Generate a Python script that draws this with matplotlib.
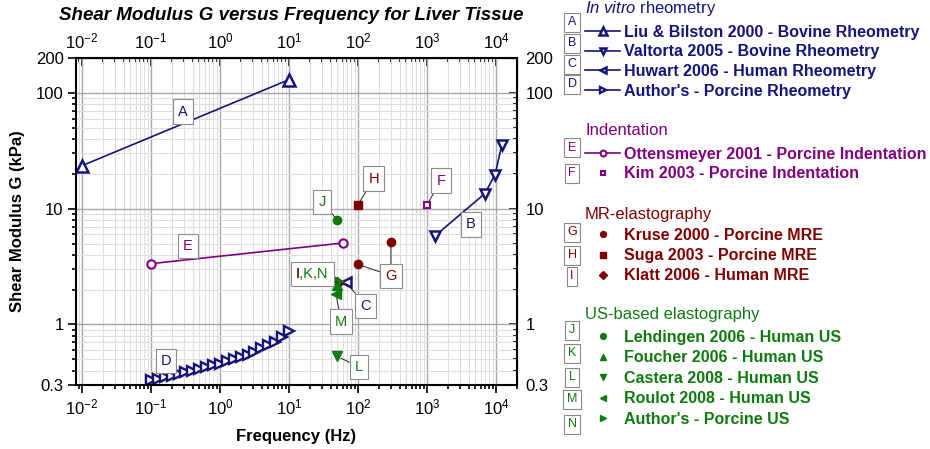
import numpy as np
import matplotlib.pyplot as plt
from matplotlib.ticker import FixedLocator, LogLocator, NullFormatter, FuncFormatter

plt.rcParams['font.family'] = ['Liberation Sans', 'DejaVu Sans']
plt.rcParams['mathtext.fontset'] = 'custom'
plt.rcParams['mathtext.rm'] = 'Liberation Sans'
plt.rcParams['mathtext.it'] = 'Liberation Sans:italic'
plt.rcParams['mathtext.bf'] = 'Liberation Sans:bold'

# ---- data (frequency Hz, shear modulus kPa) ----
liu_f = [0.01, 10]
liu_g = [23.5, 130]
valtorta_f = [1300, 6900, 9700, 12200]
valtorta_g = [5.8, 13.5, 19.7, 35.7]
huwart_f = [66]
huwart_g = [2.33]
author_f = [0.1, 0.126, 0.158, 0.2, 0.251, 0.316, 0.398, 0.501, 0.631, 0.794, 1.0,
            1.26, 1.58, 2.0, 2.51, 3.16, 3.98, 5.01, 6.31, 7.94, 10.0]
author_g = [0.33, 0.34, 0.35, 0.36, 0.37, 0.385, 0.40, 0.415, 0.43, 0.445, 0.46,
            0.48, 0.50, 0.52, 0.55, 0.58, 0.62, 0.66, 0.71, 0.78, 0.88]
otten_f = [0.1, 60]
otten_g = [3.35, 5.05]
kim_f = [1000]
kim_g = [10.8]
kruse_f = [100, 300]
kruse_g = [3.3, 5.2]
suga_f = [100]
suga_g = [10.8]
klatt_f = [50]
klatt_g = [2.3]
lehd_f = [50]
lehd_g = [8.0]
foucher_f = [50]
foucher_g = [2.2]
castera_f = [50]
castera_g = [0.53]
roulot_f = [48]
roulot_g = [1.84]
authus_f = [52]
authus_g = [2.35]

BLUE = '#14147a'
PURPLE = '#800080'
RED = '#800000'
GREEN = '#0f7a0f'

fig = plt.figure(figsize=(9.3, 4.49), dpi=100)
ax = fig.add_axes([76/930, 64/449, 441/930, 327/449])
ax.set_xscale('log')
ax.set_yscale('log')

hA, = ax.plot(liu_f, liu_g, '-^', color=BLUE, mfc='white', ms=8, mew=1.8, lw=1.2,
              label='Liu & Bilston 2000 - Bovine Rheometry')
hB, = ax.plot(valtorta_f, valtorta_g, '-v', color=BLUE, mfc='white', ms=7, mew=1.8, lw=1.2,
              label='Valtorta 2005 - Bovine Rheometry')
hC, = ax.plot(huwart_f, huwart_g, '-<', color=BLUE, mfc='white', ms=7, mew=1.8, lw=1.2,
              label='Huwart 2006 - Human Rheometry')
hD, = ax.plot(author_f, author_g, '->', color=BLUE, mfc='white', ms=7, mew=1.7, lw=1.2,
              label="Author's - Porcine Rheometry")
hE, = ax.plot(otten_f, otten_g, '-o', color=PURPLE, mfc='white', ms=6, mew=1.5, lw=1.2,
              label='Ottensmeyer 2001 - Porcine Indentation')
hF, = ax.plot(kim_f, kim_g, 's', color=PURPLE, mfc='white', ms=5, mew=1.5, ls='none',
              label='Kim 2003 - Porcine Indentation')
hG, = ax.plot(kruse_f, kruse_g, 'o', color=RED, ms=6, ls='none', label='Kruse 2000 - Porcine MRE')
hH, = ax.plot(suga_f, suga_g, 's', color=RED, ms=6, ls='none', label='Suga 2003 - Porcine MRE')
hI, = ax.plot(klatt_f, klatt_g, 'D', color=RED, ms=6, ls='none', label='Klatt 2006 - Human MRE')
hJ, = ax.plot(lehd_f, lehd_g, 'o', color=GREEN, ms=6, ls='none', label='Lehdingen 2006 - Human US')
hK, = ax.plot(foucher_f, foucher_g, '^', color=GREEN, ms=7, ls='none', label='Foucher 2006 - Human US')
hL, = ax.plot(castera_f, castera_g, 'v', color=GREEN, ms=7, ls='none', label='Castera 2008 - Human US')
hM, = ax.plot(roulot_f, roulot_g, '<', color=GREEN, ms=7, ls='none', label='Roulot 2008 - Human US')
hN, = ax.plot(authus_f, authus_g, '>', color=GREEN, ms=7, ls='none', label="Author's - Porcine US")

ax.set_xlim(10**-2.087, 10**4.305)
ax.set_ylim(0.3, 200)

# ticks and grid
def decade(v, p):
    return r'$\mathregular{10^{%d}}$' % round(np.log10(v))

ax.xaxis.set_major_locator(LogLocator(base=10, numticks=20))
ax.xaxis.set_minor_locator(LogLocator(base=10, subs=np.arange(2, 10), numticks=20))
ax.xaxis.set_minor_formatter(NullFormatter())
ax.xaxis.set_major_formatter(FuncFormatter(decade))
ax.yaxis.set_major_locator(FixedLocator([0.3, 1, 10, 100, 200]))
ax.yaxis.set_minor_locator(LogLocator(base=10, subs=np.arange(2, 10), numticks=20))
ax.yaxis.set_minor_formatter(NullFormatter())
ax.yaxis.set_major_formatter(FuncFormatter(lambda v, p: '%g' % v))
ax.grid(True, which='major', color='#a8a8a8', lw=1.0)
ax.grid(True, which='minor', color='#dedede', lw=0.8)
ax.set_axisbelow(True)
ax.tick_params(which='both', direction='out', labelsize=12, width=1.2)
ax.tick_params(which='major', length=6, pad=3)
ax.tick_params(which='minor', length=3)
for s in ax.spines.values():
    s.set_linewidth(1.5)

secx = ax.secondary_xaxis('top')
secx.xaxis.set_major_locator(LogLocator(base=10, numticks=20))
secx.xaxis.set_minor_locator(LogLocator(base=10, subs=np.arange(2, 10), numticks=20))
secx.xaxis.set_minor_formatter(NullFormatter())
secx.xaxis.set_major_formatter(FuncFormatter(decade))
secx.tick_params(which='both', direction='in', labelsize=12, width=1.2)
secx.tick_params(which='major', length=6, pad=5)
secx.tick_params(which='minor', length=3)
secy = ax.secondary_yaxis('right')
secy.yaxis.set_major_locator(FixedLocator([0.3, 1, 10, 100, 200]))
secy.yaxis.set_minor_locator(LogLocator(base=10, subs=np.arange(2, 10), numticks=20))
secy.yaxis.set_minor_formatter(NullFormatter())
secy.yaxis.set_major_formatter(FuncFormatter(lambda v, p: '%g' % v))
secy.tick_params(which='both', direction='in', labelsize=12, width=1.2)
secy.tick_params(which='major', length=6, pad=6)
secy.tick_params(which='minor', length=3)

ax.set_xlabel('Frequency (Hz)', fontsize=12, fontweight='bold', labelpad=8)
ax.set_ylabel('Shear Modulus G (kPa)', fontsize=12, fontweight='bold', labelpad=8)
fig.text(291/930, 1 - 15/449, 'Shear Modulus G versus Frequency for Liver Tissue',
         ha='center', va='center', fontsize=13.5, fontweight='bold', style='italic')

# ---- letter labels on the plot ----
box = dict(boxstyle='square,pad=0.35', fc='white', ec='#8c8c8c', lw=0.8)
conn = dict(arrowstyle='-', color='#222222', lw=0.7, shrinkA=0, shrinkB=3)
plain_labels = [('A', 0.29, 68.9, BLUE), ('B', 4340, 7.3, BLUE), ('D', 0.165, 0.486, BLUE),
                ('E', 0.34, 4.79, PURPLE)]
for t, x, y, c in plain_labels:
    ax.text(x, y, t, color=c, fontsize=10.5, ha='center', va='center', bbox=box, zorder=5)

linked_labels = [('C', (huwart_f[0], huwart_g[0]), (130, 1.45), BLUE),
                 ('F', (kim_f[0], kim_g[0]), (1600, 17.5), PURPLE),
                 ('H', (suga_f[0], suga_g[0]), (170, 18.2), RED),
                 ('J', (lehd_f[0], lehd_g[0]), (30, 11.5), GREEN),
                 ('L', (castera_f[0], castera_g[0]), (103, 0.43), GREEN),
                 ('M', (roulot_f[0], roulot_g[0]), (57, 1.06), GREEN)]
for t, xy, xyt, c in linked_labels:
    ax.annotate(t, xy=xy, xytext=xyt, color=c, fontsize=10.5, ha='center', va='center',
                bbox=box, arrowprops=conn, zorder=5)

# G label points at both Kruse values
ax.annotate('', xy=(kruse_f[1], kruse_g[1]), xytext=(300, 2.64), arrowprops=conn, zorder=4)
ax.annotate('G', xy=(kruse_f[0], kruse_g[0]), xytext=(300, 2.64), color=RED, fontsize=10.5,
            ha='center', va='center', bbox=box, arrowprops=conn, zorder=6)
ax.annotate('I,K,N', xy=(klatt_f[0], klatt_g[0]), xytext=(12.6, 2.74), color=GREEN, fontsize=10.5,
            ha='left', va='center', bbox=box, arrowprops=conn, zorder=6)
ax.text(12.6, 2.74, 'I', color=RED, fontsize=10.5, ha='left', va='center', zorder=7)

# ---- legend on the right ----
def px(x, y):
    return (x / 930, 1 - y / 449)

groups = [
    (r'$\mathit{In\ vitro}$ rheometry', BLUE, 9, [hA, hB, hC, hD], 'ABCD', 24.5, 0.3, [22, 43, 64, 84]),
    ('Indentation', PURPLE, 131, [hE, hF], 'EF', 146.5, 0.3, [148, 173]),
    ('MR-elastography', RED, 214, [hG, hH, hI], 'GHI', 228, 0.32, [232, 255, 276]),
    ('US-based elastography', GREEN, 315, [hJ, hK, hL, hM, hN], 'JKLMN', 330, 0.34,
     [330, 353, 377, 399, 424]),
]
for title, c, ty, hs, letters, ly, sp, by in groups:
    fig.text(*px(585, ty), title, color=c, fontsize=12, ha='left', va='center')
    fig.legend(handles=hs, loc='upper left', bbox_to_anchor=px(585, ly),
               frameon=False, borderpad=0, borderaxespad=0, handlelength=2.2,
               handletextpad=0.25, labelspacing=sp, markerscale=0.7,
               prop={'weight': 'bold', 'size': 11.5}, labelcolor='linecolor')
    for L, y in zip(letters, by):
        fig.text(*px(572, y), L, fontsize=9, color=c, ha='center', va='center',
                 bbox=dict(boxstyle='square,pad=0.28', fc='white', ec='#888888', lw=0.8))

fig.savefig('out.png', dpi=100)
